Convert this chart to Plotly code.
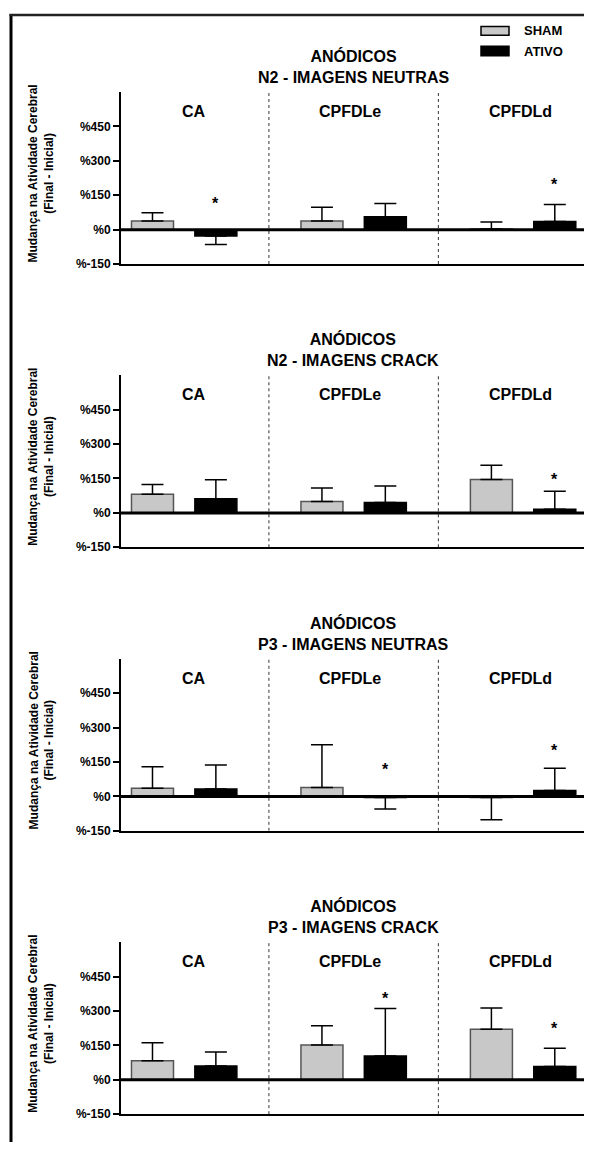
import plotly.graph_objects as go

# page body has an 8px default margin: figure is sized/positioned to fill the window
OFF = 8
W, H = 592 - OFF, 1149 - OFF

# ---------------- data ----------------
categories = ["CA", "CPFDLe", "CPFDLd"]
series_names = ["SHAM", "ATIVO"]
panel_titles = [
    "ANÓDICOS<br>N2 - IMAGENS NEUTRAS",
    "ANÓDICOS<br>N2 - IMAGENS CRACK",
    "ANÓDICOS<br>P3 - IMAGENS NEUTRAS",
    "ANÓDICOS<br>P3 - IMAGENS CRACK",
]
sham_means = [[38, 38, 3], [81, 50, 146], [36, 39, -5], [83, 152, 220]]
sham_err = [[36, 60, 30], [43, 58, 62], [94, 186, 97], [79, 84, 93]]
ativo_means = [[-28, 56, 35], [62, 45, 16], [32, -5, 26], [60, 104, 58]]
ativo_err = [[37, 58, 75], [82, 72, 78], [105, 50, 97], [61, 207, 79]]
ativo_star = [[130, None, 214], [None, None, 164], [None, 136, 218], [None, 374, 242]]
tick_vals = [-150, 0, 150, 300, 450]
tick_text = ["%-150", "%0", "%150", "%300", "%450"]
y_title = "Mudança na Atividade Cerebral<br>(Final - Inicial)"

# ---------------- style ----------------
FONT = "Arial, Liberation Sans, sans-serif"
sham_fill, sham_line = "#c8c8c8", "#555555"
ativo_fill, ativo_line = "#000000", "#000000"
panel_tops = [92.6, 377.6, 662.9, 948.0]
panel_h = 173.0
x_left, x_right = 120.8, 587.5


def fx(px):
    return (px - OFF) / W


def fy(py):
    return 1 - (py - OFF) / H


fig = go.Figure()
layout = dict(
    width=W, height=H, margin=dict(l=0, r=0, t=0, b=0),
    paper_bgcolor="white", plot_bgcolor="white",
    barmode="group", bargap=0.252, bargroupgap=0.337,
    showlegend=False, font=dict(family=FONT, color="black"),
)
annotations = []
shapes = []


def err_arrays(means, errs):
    up = [e if m >= 0 else 0 for m, e in zip(means, errs)]
    dn = [0 if m >= 0 else e for m, e in zip(means, errs)]
    return up, dn


for p in range(4):
    sfx = "" if p == 0 else str(p + 1)
    xa, ya = "x" + sfx, "y" + sfx
    for name, means, errs, fill, line in [
        (series_names[0], sham_means[p], sham_err[p], sham_fill, sham_line),
        (series_names[1], ativo_means[p], ativo_err[p], ativo_fill, ativo_line),
    ]:
        up, dn = err_arrays(means, errs)
        fig.add_trace(go.Bar(
            x=categories, y=means, name=name, xaxis=xa, yaxis=ya,
            marker=dict(color=fill, line=dict(color=line, width=1.5)),
            error_y=dict(type="data", symmetric=False, array=up, arrayminus=dn,
                         color="black", thickness=1.5, width=11),
            showlegend=(p == 0),
        ))
    top = panel_tops[p]
    layout["xaxis" + sfx] = dict(
        domain=[fx(x_left), fx(x_right)], anchor=ya, range=[-0.374, 2.38],
        type="category", categoryorder="array", categoryarray=categories,
        showticklabels=False, ticks="", showgrid=False, zeroline=False,
        showline=True, linecolor="black", linewidth=1.5, fixedrange=True,
    )
    layout["yaxis" + sfx] = dict(
        domain=[fy(top + panel_h), fy(top)], anchor=xa, range=[-150, 600],
        tickvals=tick_vals, ticktext=tick_text, ticks="outside", ticklen=6,
        tickwidth=1.5, tickcolor="black",
        tickfont=dict(family=FONT, size=12, weight="bold", color="black"),
        showgrid=False, zeroline=False, showline=True, linecolor="black",
        linewidth=1.5, fixedrange=True,
    )
    # dotted dividers
    for xv in (0.5, 1.5):
        shapes.append(dict(type="line", xref=xa, yref=ya, x0=xv, x1=xv, y0=-150, y1=600,
                           line=dict(color="#333333", width=1, dash="dot")))
    # thick zero line
    shapes.append(dict(type="line", xref=xa + " domain", yref=ya, x0=0, x1=1, y0=0, y1=0,
                       line=dict(color="black", width=3), layer="above"))
    # panel title
    annotations.append(dict(
        text=panel_titles[p], xref="paper", yref="paper",
        x=fx(353.4), y=fy(top - 26), xanchor="center", yanchor="middle",
        showarrow=False, font=dict(family=FONT, size=16, weight="bold"),
    ))
    # category labels and significance stars
    for ci, cat in enumerate(categories):
        annotations.append(dict(
            text=cat, xref=xa, yref=ya, x=cat, y=516, xshift=[10, -4, -3][ci],
            xanchor="center", yanchor="middle", showarrow=False,
            font=dict(family=FONT, size=16, weight="bold"),
        ))
        sy = ativo_star[p][ci]
        if sy is not None:
            annotations.append(dict(
                text="*", xref=xa, yref=ya, x=cat, y=sy, xshift=31.7, yshift=-4,
                xanchor="center", yanchor="middle", showarrow=False,
                font=dict(family=FONT, size=16, weight="bold"),
            ))
    # y-axis title
    annotations.append(dict(
        text=y_title, xref="paper", yref="paper", x=fx(41.5),
        y=fy(top + panel_h / 2 - 4), xanchor="center", yanchor="middle",
        textangle=-90, showarrow=False,
        font=dict(family=FONT, size=12, weight="bold"),
    ))

# legend (manual)
legend_rows = [(series_names[0], sham_fill, 26.5, 35.5, 31),
               (series_names[1], ativo_fill, 46.5, 56, 52)]
for name, fill, y0, y1, yc in legend_rows:
    shapes.append(dict(type="rect", xref="paper", yref="paper",
                       x0=fx(481), x1=fx(509), y0=fy(y1), y1=fy(y0),
                       fillcolor=fill, line=dict(color="black", width=1.5)))
    annotations.append(dict(text=name, xref="paper", yref="paper", x=fx(522),
                            y=fy(yc), xanchor="left", yanchor="middle",
                            showarrow=False,
                            font=dict(family=FONT, size=13, weight="bold")))

# frame
shapes.append(dict(type="line", xref="paper", yref="paper", x0=fx(11), x1=fx(11),
                   y0=0, y1=fy(14), line=dict(color="black", width=3)))
shapes.append(dict(type="line", xref="paper", yref="paper", x0=fx(9.5), x1=1,
                   y0=fy(15), y1=fy(15), line=dict(color="#222222", width=2.5)))

layout["annotations"] = annotations
layout["shapes"] = shapes
fig.update_layout(**layout)
fig.write_html("out.html")
